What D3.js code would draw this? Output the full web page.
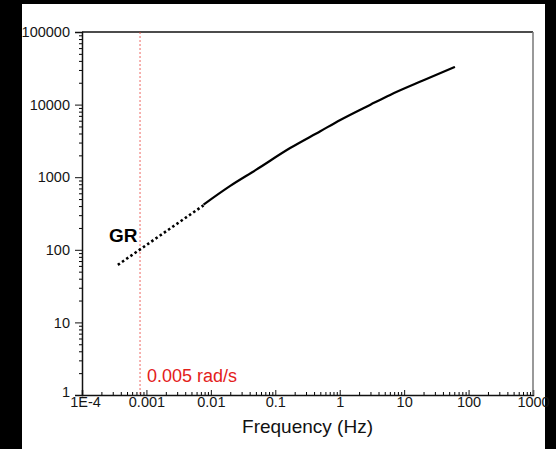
<!DOCTYPE html>
<html>
<head>
<meta charset="utf-8">
<script src="https://cdn.jsdelivr.net/npm/d3@7"></script>
<style>
  html, body { margin: 0; padding: 0; background: #000; }
  svg { display: block; }
  text { font-family: "Liberation Sans", Arial, sans-serif; }
</style>
</head>
<body>
<svg id="chart" width="556" height="449"></svg>
<script>
// measured curve (solid) and extrapolated part (dotted)
const solidFreq = [0.0077, 0.02, 0.05, 0.17, 0.5, 1.02, 3, 6.07, 20, 61.5];
const solidGR = [420, 760, 1260, 2520, 4300, 6140, 9980, 13600, 21600, 33000];
const dottedFreq = [0.00036, 0.0077];
const dottedGR = [62, 410];

const xTickValues = [1e-4, 1e-3, 1e-2, 0.1, 1, 10, 100, 1000];
const xTickLabels = ["1E-4", "0.001", "0.01", "0.1", "1", "10", "100", "1000"];
const yTickValues = [1, 10, 100, 1000, 10000, 100000];
const yTickLabels = ["1", "10", "100", "1000", "10000", "100000"];

const markerRadS = 0.005;  // rad/s, drawn in Hz
const markerLabel = "0.005 rad/s";

const svg = d3.select("#chart");
const margins = { top: 32, right: 23, bottom: 54, left: 82 };
const W = 556, H = 449;

// white page behind the plot
svg.append("rect")
    .attr("x", 22).attr("y", 4)
    .attr("width", 523).attr("height", 445)
    .attr("fill", "white");

const x = d3.scaleLog()
    .domain([1e-4, 1000])
    .range([margins.left, W - margins.right]);
const y = d3.scaleLog()
    .domain([1, 1e5])
    .range([H - margins.bottom, margins.top]);

const x0 = x.range()[0], x1 = x.range()[1];
const y0 = y.range()[0], y1 = y.range()[1];

function minorTicks(majors) {
    const out = [];
    majors.slice(0, -1).forEach(m => {
        for (let k = 2; k <= 9; k++) out.push(m * k);
    });
    return out;
}

// minor ticks
svg.append("g")
    .attr("transform", `translate(0,${y0})`)
    .call(d3.axisBottom(x).tickValues(minorTicks(xTickValues)).tickSize(-3).tickFormat(""))
    .call(g => g.select(".domain").remove());
svg.append("g")
    .attr("transform", `translate(${x0},0)`)
    .call(d3.axisLeft(y).tickValues(minorTicks(yTickValues)).tickSize(3).tickFormat(""))
    .call(g => g.select(".domain").remove());

// major ticks + labels
const xAxis = svg.append("g")
    .attr("transform", `translate(0,${y0})`)
    .call(d3.axisBottom(x).tickValues(xTickValues).tickSize(-5).tickPadding(2)
        .tickFormat((d, i) => xTickLabels[i]));
const yAxis = svg.append("g")
    .attr("transform", `translate(${x0},0)`)
    .call(d3.axisLeft(y).tickValues(yTickValues).tickSize(7).tickPadding(5)
        .tickFormat((d, i) => yTickLabels[i]));

[xAxis, yAxis].forEach(g => {
    g.selectAll("text").style("font-size", "14.5px").attr("fill", "#151515");
    g.selectAll("line").attr("stroke", "#111").attr("stroke-width", 1);
    g.select(".domain").attr("stroke", "#111").attr("stroke-width", 1.5);
});

// the "1" and "1E-4" labels sit close together in the corner
yAxis.selectAll(".tick text").filter(d => d === 1).attr("dy", "0.1em");
xAxis.selectAll(".tick text").filter(d => d === 1e-4).attr("dx", "3");

// top and right frame
svg.append("line")
    .attr("x1", x0).attr("x2", x1).attr("y1", y1).attr("y2", y1)
    .attr("stroke", "#111").attr("stroke-width", 1.5);
svg.append("line")
    .attr("x1", x1).attr("x2", x1).attr("y1", y1).attr("y2", y0)
    .attr("stroke", "#777").attr("stroke-width", 1.5);

// red marker line
const markerHz = markerRadS / (2 * Math.PI);
svg.append("line")
    .attr("x1", x(markerHz)).attr("x2", x(markerHz))
    .attr("y1", y1).attr("y2", y0)
    .attr("stroke", "#e8403a").attr("stroke-width", 0.8)
    .attr("stroke-dasharray", "2,2");

svg.append("text")
    .attr("x", x(markerHz) + 7)
    .attr("y", y0 - 13)
    .attr("fill", "#e3201b")
    .style("font-size", "18px")
    .text(markerLabel);

const line = d3.line()
    .x(d => x(d[0]))
    .y(d => y(d[1]));

svg.append("path")
    .datum(dottedFreq.map((f, i) => [f, dottedGR[i]]))
    .attr("d", line)
    .attr("fill", "none")
    .attr("stroke", "#000")
    .attr("stroke-width", 2.6)
    .attr("stroke-dasharray", "2.5,2.6");

svg.append("path")
    .datum(solidFreq.map((f, i) => [f, solidGR[i]]))
    .attr("d", line.curve(d3.curveMonotoneX))
    .attr("fill", "none")
    .attr("stroke", "#000")
    .attr("stroke-width", 2.2);

svg.append("text")
    .attr("x", 109)
    .attr("y", 242)
    .style("font-size", "19px")
    .style("font-weight", "bold")
    .attr("fill", "#000")
    .text("GR");

svg.append("text")
    .attr("x", (x0 + x1) / 2)
    .attr("y", 433)
    .attr("text-anchor", "middle")
    .style("font-size", "19px")
    .attr("fill", "#111")
    .text("Frequency (Hz)");
</script>
</body>
</html>
